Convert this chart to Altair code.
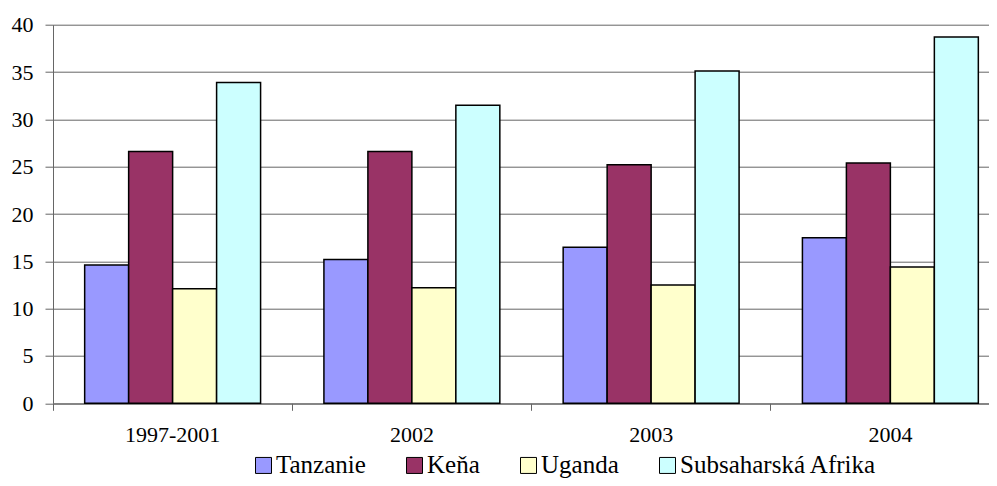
import altair as alt
import pandas as pd

periods = ["1997-2001", "2002", "2003", "2004"]
series = ["Tanzanie", "Keňa", "Uganda", "Subsaharská Afrika"]
tanzanie = [14.6, 15.2, 16.5, 17.5]
kena = [26.6, 26.6, 25.2, 25.4]
uganda = [12.1, 12.2, 12.5, 14.4]
ssa = [33.9, 31.5, 35.1, 38.7]
colors = ["#9999FF", "#993366", "#FFFFCC", "#CCFFFF"]
y_ticks = [0, 5, 10, 15, 20, 25, 30, 35, 40]

rows = []
for s, vals in zip(series, [tanzanie, kena, uganda, ssa]):
    for p, v in zip(periods, vals):
        rows.append({"period": p, "series": s, "value": v})
df = pd.DataFrame(rows)

FONT = "Liberation Serif"

chart = alt.Chart(df).mark_bar(stroke="black", strokeWidth=1.5).encode(
    x=alt.X(
        "period:N",
        sort=periods,
        scale=alt.Scale(range=[0, 957], paddingInner=0, paddingOuter=0),
        axis=alt.Axis(
            title=None, labelAngle=0, bandPosition=0, grid=False,
            domainColor="#666666", tickColor="#666666", tickSize=7,
            labelFont=FONT, labelFontSize=22, labelColor="black", labelPadding=14,
        ),
    ),
    xOffset=alt.XOffset(
        "series:N", sort=series,
        scale=alt.Scale(paddingInner=0, paddingOuter=0.72),
    ),
    y=alt.Y(
        "value:Q",
        scale=alt.Scale(domain=[0, 40], nice=False),
        axis=alt.Axis(
            title=None, values=y_ticks, grid=True, gridColor="#666666",
            domainColor="#666666", tickColor="#666666", tickSize=8,
            labelFont=FONT, labelFontSize=22, labelColor="black", labelPadding=12,
        ),
    ),
    color=alt.Color(
        "series:N",
        sort=series,
        scale=alt.Scale(domain=series, range=colors),
        legend=alt.Legend(
            title=None, orient="none", legendX=198, legendY=428,
            direction="horizontal", columns=4,
            symbolType="square", symbolSize=256,
            symbolStrokeColor="black", symbolStrokeWidth=1, symbolOpacity=1,
            labelFont=FONT, labelFontSize=25, labelColor="black",
            labelOffset=0, columnPadding=36, padding=0, labelLimit=500,
        ),
    ),
).properties(
    width=936,
    height=378.6,
    autosize=alt.AutoSizeParams(type="none"),
    padding={"left": 45, "top": 16.7, "right": 0, "bottom": 74.7},
).configure_view(stroke=None).configure_axis(
    labelFont=FONT
).configure_axisY(labelFont=FONT, labelFontSize=22)

chart.save("out.html", embed_options={"renderer": "svg", "actions": False})
